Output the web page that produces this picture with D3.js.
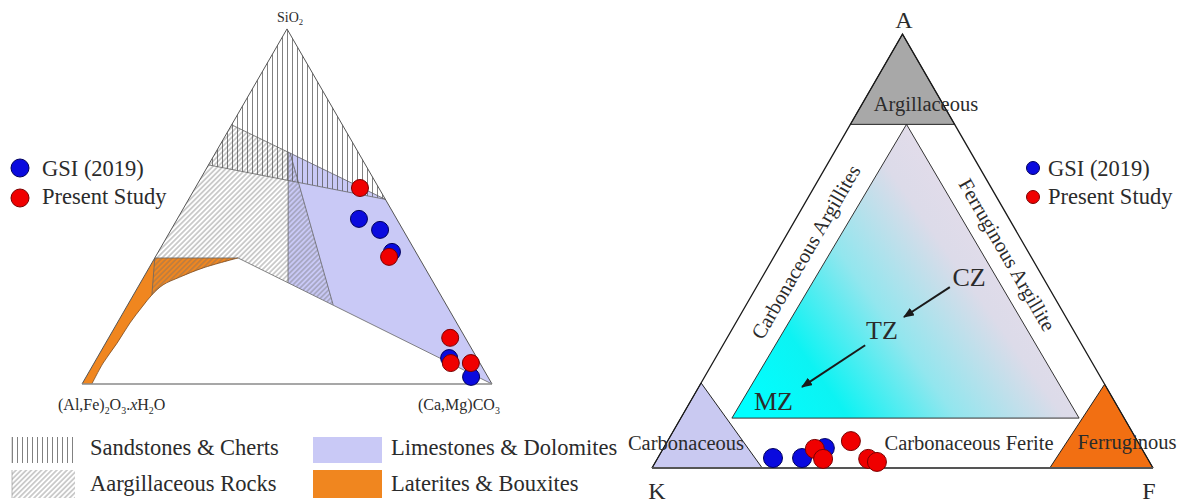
<!DOCTYPE html>
<html lang="en">
<head>
<meta charset="UTF-8">
<title>Ternary diagrams</title>
<script src="https://d3js.org/d3.v7.min.js"></script>
<style>
  body { margin: 0; background: #fff; }
  text { font-family: "Liberation Serif", "Times New Roman", serif; fill: #2b2b2b; }
</style>
</head>
<body>
<svg width="1182" height="504"></svg>
<script>
// left diagram, [SiO2, (Al,Fe)2O3.xH2O, (Ca,Mg)CO3] in %
const gsiLeft = [[46.5, 9.2, 44.3], [43.4, 5.6, 51.0], [37.2, 5.8, 57.0], [7.3, 6.8, 85.9], [2.0, 4.1, 93.9]];
const presentLeft = [[55.2, 4.6, 40.2], [35.8, 7.2, 57.0], [13.0, 3.7, 83.3], [5.9, 7.1, 87.0], [5.9, 2.2, 91.9]];

// right diagram, [A, K, F] in %
const gsiRight = [[2.3, 74.7, 23.0], [2.3, 68.9, 28.8], [4.6, 63.2, 32.2]];
const presentRight = [[4.4, 65.3, 30.3], [2.1, 64.8, 33.1], [6.2, 57.2, 36.6], [2.1, 55.8, 42.1], [1.4, 54.4, 44.2]];

const seriesNames = ["GSI (2019)", "Present Study"];
const rockTypes = ["Sandstones & Cherts", "Aargillaceous Rocks", "Limestones & Dolomites", "Laterites & Bouxites"];

// field boundaries of the left diagram
const Q1 = [61.7, 38.3, 0], Q2 = [73, 27, 0], P = [52, 0, 48];
const Vtop = [65.4, 17.0, 17.6], Vbot = [28.5, 35.5, 36.0];
const Wtop = [65.1, 16.7, 18.2], Wbot = [22.3, 27.6, 50.1];
const O2 = [35.5, 44.2, 20.3], OL = [35.5, 64.5, 0];
const lateriteCurve = [[35.5, 44.2, 20.3], [32.7, 54.1, 13.2], [30.1, 61.1, 8.8], [27.9, 66.3, 5.8], [25.1, 70.4, 4.5],
  [21.7, 74.5, 3.8], [17.2, 79.7, 3.1], [11.5, 85.7, 2.8], [5.9, 91.9, 2.2], [0, 97.6, 2.4]];

// fields of the right diagram, [A, K, F]
const argField = [[100, 0, 0], [79.2, 20.8, 0], [79.2, 0, 20.8]];
const innerField = [[79.2, 9.6, 11.2], [11.5, 78.3, 10.2], [11.5, 9.0, 79.5]];
const carbField = [[0, 100, 0], [19.6, 80.4, 0], [0, 78, 22]];
const ferrField = [[0, 0, 100], [19.3, 0, 80.7], [0, 20.6, 79.4]];
const zoneLabels = [["CZ", [44.0, 14.7, 41.3]], ["TZ", [31.6, 38.3, 30.1]], ["MZ", [15.3, 68.1, 16.6]]];
const zoneArrows = [[[41.7, 19.7, 38.6], [34.8, 32.3, 32.9]], [[28.3, 43.3, 28.4], [18.7, 60.7, 20.6]]];

const svg = d3.select("svg");
const defs = svg.append("defs");

defs.append("pattern").attr("id", "vhatch").attr("patternUnits", "userSpaceOnUse")
  .attr("width", 5).attr("height", 10)
  .append("line").attr("x1", 2.5).attr("y1", 0).attr("x2", 2.5).attr("y2", 10)
  .attr("stroke", "#4a4a4a").attr("stroke-width", 0.7);
defs.append("pattern").attr("id", "dhatch").attr("patternUnits", "userSpaceOnUse")
  .attr("width", 3.6).attr("height", 10).attr("patternTransform", "rotate(45)")
  .append("line").attr("x1", 1.8).attr("y1", 0).attr("x2", 1.8).attr("y2", 10)
  .attr("stroke", "#6e6e6e").attr("stroke-width", 0.7);

const grad = defs.append("linearGradient").attr("id", "zoneGrad")
  .attr("gradientUnits", "userSpaceOnUse")
  .attr("x1", 760).attr("y1", 420).attr("x2", 1000).attr("y2", 250);
[[0, "#00ffff"], [0.25, "#0cf3f3"], [0.55, "#92e6ee"], [0.85, "#dcdbe9"], [1, "#e2dcea"]]
  .forEach(s => grad.append("stop").attr("offset", s[0]).attr("stop-color", s[1]));

defs.append("marker").attr("id", "arrow").attr("viewBox", "0 0 10 8")
  .attr("refX", 9).attr("refY", 4).attr("markerWidth", 5.5).attr("markerHeight", 4.4)
  .attr("orient", "auto")
  .append("path").attr("d", "M0,0L10,4L0,8Z").attr("fill", "#1a1a1a");

// ternary scales
const sideL = 410, hL = sideL * Math.sqrt(3) / 2;
const xL = d3.scaleLinear().domain([0, 100]).range([82, 82 + sideL]);
const yL = d3.scaleLinear().domain([0, 100]).range([384, 384 - hL]);
const pL = d => [xL(d[2] + d[0] / 2), yL(d[0])];

const sideR = 501, hR = sideR * Math.sqrt(3) / 2;
const xR = d3.scaleLinear().domain([0, 100]).range([652, 652 + sideR]);
const yR = d3.scaleLinear().domain([0, 100]).range([468, 468 - hR]);
const pR = d => [xR(d[2] + d[0] / 2), yR(d[0])];

const straight = (pts, p) => "M" + pts.map(d => p(d).join(",")).join("L");
const poly = (pts, p) => straight(pts, p) + "Z";
const smooth = d3.line().curve(d3.curveCatmullRom.alpha(0.5));

// ---------- left diagram ----------
const gl = svg.append("g");
const apexL = [100, 0, 0], leftL = [0, 100, 0], rightL = [0, 0, 100];

gl.append("path").attr("d", poly([Vtop, P, rightL, Vbot], pL)).attr("fill", "#c9c9f6");
gl.append("path")
  .attr("d", straight([leftL, OL, O2], pL) + smooth(lateriteCurve.map(pL)).replace(/^M/, "L") + "Z")
  .attr("fill", "#f0861f");
gl.append("path")
  .attr("d", straight([Q2, Wtop, Wbot, O2], pL) + smooth(lateriteCurve.slice(0, 5).map(pL)).replace(/^M/, "L")
    + "L" + pL(OL).join(",") + "Z")
  .attr("fill", "url(#dhatch)");
gl.append("path").attr("d", poly([apexL, Q1, P], pL)).attr("fill", "url(#vhatch)");

const edge = (pts, w, c) => gl.append("path").attr("d", straight(pts, pL))
  .attr("fill", "none").attr("stroke", c || "#666").attr("stroke-width", w || 0.8);
edge([Q1, P]); edge([Q2, P]); edge([Vtop, Vbot]); edge([Wtop, Wbot]); edge([O2, rightL]);
edge([OL, O2]); edge([OL, lateriteCurve[4]]);
gl.append("path").attr("d", smooth(lateriteCurve.map(pL))).attr("fill", "none")
  .attr("stroke", "#7a4a20").attr("stroke-width", 0.8);
edge([leftL, apexL, rightL], 1, "#555");
edge([leftL, rightL], 1.6, "#8a8a8a");

function chem(g, x, y, parts, size, anchor) {
  const t = g.append("text").attr("x", x).attr("y", y).attr("font-size", size).attr("text-anchor", anchor || "start");
  parts.forEach(p => {
    const s = t.append("tspan").text(p[0]);
    if (p[1] === "s") s.attr("font-size", size * 0.62).attr("dy", size * 0.22);
    if (p[1] === "a") s.attr("dy", -size * 0.22);
    if (p[1] === "i") s.attr("font-style", "italic");
  });
}
chem(gl, 277, 22, [["SiO"], ["2", "s"]], 14);
chem(gl, 58, 410, [["(Al,Fe)"], ["2", "s"], ["O", "a"], ["3", "s"], [".", "a"], ["x", "i"], ["H"], ["2", "s"], ["O", "a"]], 16);
chem(gl, 418, 410, [["(Ca,Mg)CO"], ["3", "s"]], 16);

const dotStyle = [{ fill: "#0a0ade", stroke: "#00005c" }, { fill: "#f00000", stroke: "#7a0000" }];
[gsiLeft, presentLeft].forEach((set, i) => {
  gl.selectAll(null).data(set).enter().append("circle")
    .attr("cx", d => pL(d)[0]).attr("cy", d => pL(d)[1]).attr("r", 8.5)
    .attr("fill", dotStyle[i].fill).attr("stroke", dotStyle[i].stroke).attr("stroke-width", 1);
});

// legend, left
seriesNames.forEach((n, i) => {
  gl.append("circle").attr("cx", 20).attr("cy", 168 + i * 30).attr("r", 9)
    .attr("fill", dotStyle[i].fill).attr("stroke", dotStyle[i].stroke);
  gl.append("text").attr("x", 42).attr("y", 169 + i * 28).attr("dy", "0.33em")
    .attr("font-size", 22.5).text(n);
});

// legend, bottom
const swatchFill = ["url(#vhatch)", "url(#dhatch)", "#c9c9f6", "#f0861f"];
rockTypes.forEach((n, i) => {
  const col = Math.floor(i / 2), row = i % 2;
  const x = col ? 313 : 12, y = row ? 470 : 437;
  gl.append("rect").attr("x", x).attr("y", y).attr("width", col ? 69 : 63).attr("height", row ? 28 : 26)
    .attr("fill", swatchFill[i]);
  if (!col) gl.append("line").attr("x1", x).attr("x2", x).attr("y1", y).attr("y2", y + (row ? 28 : 26))
    .attr("stroke", "#8a8a8a").attr("stroke-width", 0.6);
  gl.append("text").attr("x", col ? 391 : 90).attr("y", row ? 484 : 448).attr("dy", "0.33em")
    .attr("font-size", 22.5).text(n);
});

// ---------- right diagram ----------
const gr = svg.append("g");
gr.append("path").attr("d", poly(innerField, pR)).attr("fill", "url(#zoneGrad)")
  .attr("stroke", "#333").attr("stroke-width", 1);
gr.append("path").attr("d", poly(argField, pR)).attr("fill", "#a8a8a8").attr("stroke", "#222").attr("stroke-width", 1);
gr.append("path").attr("d", poly(carbField, pR)).attr("fill", "#c9c9f1").attr("stroke", "#222").attr("stroke-width", 1);
gr.append("path").attr("d", poly(ferrField, pR)).attr("fill", "#f26f12").attr("stroke", "#222").attr("stroke-width", 1);
gr.append("path").attr("d", straight([[0, 100, 0], [100, 0, 0], [0, 0, 100]], pR))
  .attr("fill", "none").attr("stroke", "#1a1a1a").attr("stroke-width", 1.3);
gr.append("path").attr("d", straight([[0, 100, 0], [0, 0, 100]], pR))
  .attr("fill", "none").attr("stroke", "#555").attr("stroke-width", 2);

const label = (x, y, t, size, rot) => gr.append("text")
  .attr("transform", `translate(${x},${y}) rotate(${rot || 0})`)
  .attr("text-anchor", "middle").attr("dy", "0.33em").attr("font-size", size).text(t);
label(904, 20, "A", 24);
label(657, 491, "K", 24);
label(1149, 491, "F", 24);
label(926, 104.5, "Argillaceous", 20.5);
label(686, 443, "Carbonaceous", 20.5);
label(969, 443, "Carbonaceous Ferite", 20.5);
label(1127, 442, "Ferruginous", 20.5);
label(806, 252, "Carbonaceous Argillites", 20.5, -60);
label(1007, 255, "Ferruginous Argillite", 20.5, 60);

zoneLabels.forEach(z => { const p = pR(z[1]); label(p[0], p[1], z[0], 26); });
zoneArrows.forEach(a => {
  const s = pR(a[0]), e = pR(a[1]);
  gr.append("line").attr("x1", s[0]).attr("y1", s[1]).attr("x2", e[0]).attr("y2", e[1])
    .attr("stroke", "#1a1a1a").attr("stroke-width", 2).attr("marker-end", "url(#arrow)");
});

[gsiRight, presentRight].forEach((set, i) => {
  gr.selectAll(null).data(set).enter().append("circle")
    .attr("cx", d => pR(d)[0]).attr("cy", d => pR(d)[1]).attr("r", 9.5)
    .attr("fill", dotStyle[i].fill).attr("stroke", dotStyle[i].stroke).attr("stroke-width", 1);
});

seriesNames.forEach((n, i) => {
  gr.append("circle").attr("cx", 1033).attr("cy", 168 + i * 29).attr("r", 6.5)
    .attr("fill", dotStyle[i].fill).attr("stroke", dotStyle[i].stroke);
  gr.append("text").attr("x", 1048).attr("y", 169 + i * 28).attr("dy", "0.33em")
    .attr("font-size", 22.5).text(n);
});
</script>
</body>
</html>
